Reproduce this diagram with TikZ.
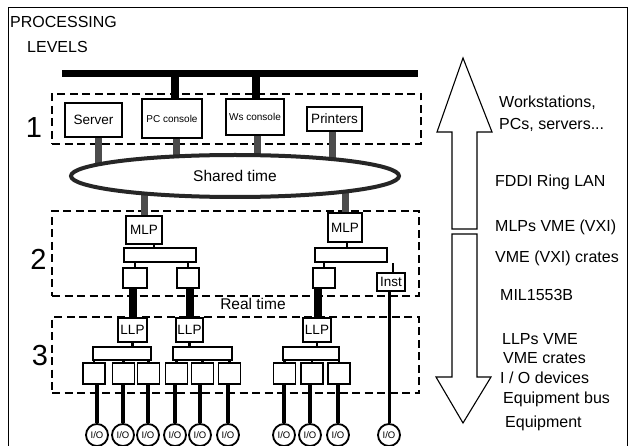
\documentclass[tikz,border=0pt]{standalone}
\usepackage{fontspec}
\setmainfont{Liberation Sans}
\usetikzlibrary{positioning, shapes.geometric}

\begin{document}
\begin{tikzpicture}[x=1pt, y=-1pt, font=\fontsize{15.5}{17}\selectfont,
  box/.style={draw, fill=white, line width=1.3pt, inner sep=0pt, align=center},
  unit/.style={box, font=\fontsize{13.5}{15}\selectfont},
  smallunit/.style={box, font=\fontsize{10}{11}\selectfont},
  crate/.style={box, minimum height=14},
  dev/.style={box, minimum width=22, minimum height=21},
  io/.style={circle, draw, fill=white, line width=1.8pt, minimum size=22, inner sep=0pt,
             font=\fontsize{9.5}{10}\selectfont},
  level/.style={draw, dash pattern=on 8pt off 4.5pt, line width=1.4pt, inner sep=0pt},
  levelnum/.style={font=\fontsize{29}{30}\selectfont, inner sep=0pt},
  sidelbl/.style={anchor=west, inner sep=0pt, font=\fontsize{16}{18}\selectfont},
  bigbar/.style={line width=8pt},
  lanbar/.style={line width=7pt, black!70},
  stub/.style={line width=2.2pt},
  iobus/.style={line width=4pt},
  bigarrow/.style={draw, line width=1.1pt, fill=white, line join=miter}]
  \useasboundingbox (0,0) rectangle (629,446);
  \draw[line width=0.8pt] (8,446) -- (8,7) -- (627,7) -- (627,446);
  \node[anchor=west, inner sep=0pt, font=\fontsize{16}{18}\selectfont] (ttl) at (10,22) {PROCESSING};
  \node[anchor=west, inner sep=0pt, font=\fontsize{16}{18}\selectfont] (lvls) at (27,47) {LEVELS};

  % processing levels
  \node[level, minimum width=369, minimum height=50] (lvl1) at (236.5,119) {};
  \node[level, minimum width=367, minimum height=85] (lvl2) at (235.5,253.5) {};
  \node[level, minimum width=367, minimum height=76] (lvl3) at (235.5,355) {};
  \node[levelnum] (n1) at (34,128) {1};
  \node[levelnum] (n2) at (38.5,259.5) {2};
  \node[levelnum] (n3) at (40,355.5) {3};
  \node[inner sep=1pt] (rt) at (253,304) {Real time};

  % level 1
  \node[fill, minimum width=356, minimum height=7, inner sep=0pt] (bus) at (240,73.5) {};
  \node[unit, minimum width=57, minimum height=34] (srv) at (93.5,120) {Server};
  \node[smallunit, minimum width=60, minimum height=39] (pcc) at (172,118.5) {PC console};
  \node[smallunit, minimum width=58, minimum height=36] (wsc) at (255,117) {Ws console};
  \node[unit, minimum width=55, minimum height=24] (prn) at (334.5,119) {Printers};
  \draw[bigbar] ([xshift=3]pcc.north) -- ([xshift=3]pcc.north |- bus.center);
  \draw[bigbar] ([xshift=1]wsc.north) -- ([xshift=1]wsc.north |- bus.center);

  % level 2
  \node[unit, minimum width=36, minimum height=28] (mlpa) at (144,230) {MLP};
  \node[unit, minimum width=34, minimum height=29] (mlpb) at (345,227.5) {MLP};
  \node[crate, minimum width=72] (cra) at (160,255) {};
  \node[crate, minimum width=72] (crb) at (351,255) {};
  \node[dev, minimum width=24, minimum height=20] (bxa) at (135,278) {};
  \node[dev, minimum height=20] (bxb) at (188,278) {};
  \node[dev, minimum height=20] (bxc) at (324,278) {};
  \node[unit, minimum width=28, minimum height=18] (inst) at (391,282) {Inst};
  \draw[stub] ([xshift=10]mlpa.south) -- ([xshift=10]mlpa.south |- cra.north);
  \draw[stub] ([xshift=2]mlpb.south) -- ([xshift=2]mlpb.south |- crb.north);
  \draw[stub] (bxa.north) -- (bxa.north |- cra.south);
  \draw[stub] (bxb.north) -- (bxb.north |- cra.south);
  \draw[stub] (bxc.north) -- (bxc.north |- crb.south);
  \draw[stub] ([xshift=2]inst.north) -- ([xshift=2]inst.north |- crb.south);

  % shared time LAN
  \coordinate (lanc) at (235,176);
  \draw[lanbar] ([xshift=5]srv.south) -- ([xshift=5]srv.south |- lanc);
  \draw[lanbar] ([xshift=4]pcc.south) -- ([xshift=4]pcc.south |- lanc);
  \draw[lanbar] ([xshift=2]wsc.south) -- ([xshift=2]wsc.south |- lanc);
  \draw[lanbar] ([xshift=-2]prn.south) -- ([xshift=-2]prn.south |- lanc);
  \draw[lanbar] (mlpa.north) -- (mlpa.north |- lanc);
  \draw[lanbar] (mlpb.north) -- (mlpb.north |- lanc);
  \node[ellipse, draw=black!85, line width=4pt, fill=white, minimum width=328, minimum height=42,
        inner sep=0pt] (lan) at (lanc) {\raisebox{-5pt}{Shared time}};

  % level 3
  \node[unit, minimum width=29, minimum height=24] (lla) at (132.5,330) {LLP};
  \node[unit, minimum width=27, minimum height=24] (llb) at (189.5,330) {LLP};
  \node[unit, minimum width=28, minimum height=24] (llc) at (317,330) {LLP};
  \draw[bigbar] (lla.north |- bxa.south) -- (lla.north);
  \draw[bigbar] (llb.north |- bxb.south) -- (llb.north);
  \draw[bigbar] ([xshift=1]llc.north |- bxc.south) -- ([xshift=1]llc.north);
  \node[crate, minimum width=58, minimum height=13] (cla) at (122,353.5) {};
  \node[crate, minimum width=59, minimum height=13] (clb) at (202.5,353.5) {};
  \node[crate, minimum width=56, minimum height=13] (clc) at (311,353.5) {};
  \draw[stub] (lla.south) -- (lla.south |- cla.north);
  \draw[stub] (llb.south) -- (llb.south |- clb.north);
  \draw[stub] (llc.south) -- (llc.south |- clc.north);
  \node[dev] (da1) at (94,373.5) {};
  \node[dev] (da2) at (123.5,373.5) {};
  \node[dev] (da3) at (148.5,373.5) {};
  \node[dev] (db1) at (176.5,373.5) {};
  \node[dev] (db2) at (202.5,373.5) {};
  \node[dev] (db3) at (229.5,373.5) {};
  \node[dev] (dc1) at (284.5,373.5) {};
  \node[dev] (dc2) at (312,373.5) {};
  \node[dev] (dc3) at (339,373.5) {};
  \draw[stub] (da1.north) -- (da1.north |- cla.south);
  \draw[stub] (da2.north) -- (da2.north |- cla.south);
  \draw[stub] (da3.north) -- (da3.north |- cla.south);
  \draw[stub] (db1.north) -- (db1.north |- clb.south);
  \draw[stub] (db2.north) -- (db2.north |- clb.south);
  \draw[stub] (db3.north) -- (db3.north |- clb.south);
  \draw[stub] (dc1.north) -- (dc1.north |- clc.south);
  \draw[stub] (dc2.north) -- (dc2.north |- clc.south);
  \draw[stub] (dc3.north) -- (dc3.north |- clc.south);

  % equipment
  \node[io] (io1) at (97,435) {I/O};
  \node[io] (io2) at (123,435) {I/O};
  \node[io] (io3) at (148,435) {I/O};
  \node[io] (io4) at (175,435) {I/O};
  \node[io] (io5) at (200,435) {I/O};
  \node[io] (io6) at (228,435) {I/O};
  \node[io] (io7) at (284,435) {I/O};
  \node[io] (io8) at (310,435) {I/O};
  \node[io] (io9) at (338,435) {I/O};
  \node[io] (io10) at (389,435) {I/O};
  \draw[iobus] (io1.north |- da1.south) -- (io1.north);
  \draw[iobus] (io2.north |- da2.south) -- (io2.north);
  \draw[iobus] (io3.north |- da3.south) -- (io3.north);
  \draw[iobus] (io4.north |- db1.south) -- (io4.north);
  \draw[iobus] (io5.north |- db2.south) -- (io5.north);
  \draw[iobus] (io6.north |- db3.south) -- (io6.north);
  \draw[iobus] (io7.north |- dc1.south) -- (io7.north);
  \draw[iobus] (io8.north |- dc2.south) -- (io8.north);
  \draw[iobus] (io9.north |- dc3.south) -- (io9.north);
  \draw[line width=3pt] (io10.north |- inst.south) -- (io10.north);

  % up/down arrows
  \draw[bigarrow] (463,58) -- (492,132) -- (477,132) -- (477,229) -- (452,229) -- (452,132)
    -- (437,132) -- cycle;
  \draw[bigarrow] (452,234) -- (477,234) -- (477,377) -- (491,377) -- (463,423) -- (436,377)
    -- (452,377) -- cycle;

  % side labels
  \node[sidelbl] (t1) at (499,103) {Workstations,};
  \node[sidelbl] (t2) at (499,125) {PCs, servers...};
  \node[sidelbl] (t3) at (495,182) {FDDI Ring LAN};
  \node[sidelbl] (t4) at (495,227) {MLPs VME (VXI)};
  \node[sidelbl] (t5) at (495,258) {VME (VXI) crates};
  \node[sidelbl] (t6) at (500,295) {MIL1553B};
  \node[sidelbl] (t7) at (502,339.5) {LLPs VME};
  \node[sidelbl] (t8) at (503,358) {VME crates};
  \node[sidelbl] (t9) at (500,377.5) {I / O devices};
  \node[sidelbl] (t10) at (503,399) {Equipment bus};
  \node[sidelbl] (t11) at (505,423) {Equipment};
\end{tikzpicture}
\end{document}
